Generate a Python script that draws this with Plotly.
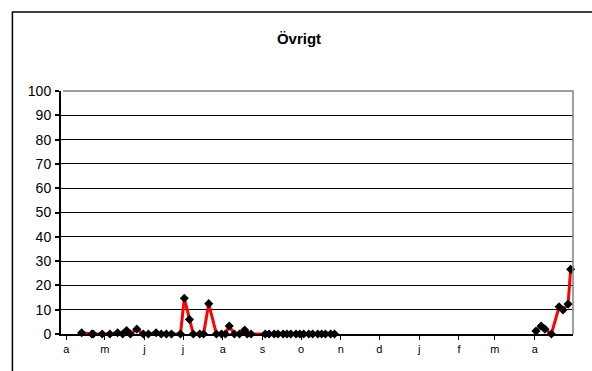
import plotly.graph_objects as go

# Observation dates (season spring 2006 - spring 2007) and share values in percent
dates_summer = [
    "2006-04-13", "2006-04-21", "2006-04-22", "2006-04-29", "2006-05-05",
    "2006-05-11", "2006-05-15", "2006-05-18", "2006-05-21", "2006-05-26",
    "2006-05-31", "2006-06-04", "2006-06-10", "2006-06-14", "2006-06-18",
    "2006-06-22", "2006-06-29", "2006-07-02", "2006-07-06", "2006-07-09",
    "2006-07-14", "2006-07-17", "2006-07-21", "2006-07-27", "2006-07-31",
    "2006-08-03", "2006-08-06", "2006-08-10", "2006-08-14", "2006-08-18",
    "2006-08-20", "2006-08-23", "2006-09-03", "2006-09-06", "2006-09-10",
    "2006-09-13", "2006-09-17", "2006-09-20", "2006-09-23", "2006-09-27",
    "2006-09-30", "2006-10-03", "2006-10-07", "2006-10-10", "2006-10-14",
    "2006-10-17", "2006-10-20", "2006-10-24", "2006-10-27",
]
values_summer = [
    0.5, 0, 0, 0, 0,
    0.5, 0, 1.4, 0, 2.0,
    0, 0, 0.5, 0, 0,
    0, 0, 14.7, 6.0, 0,
    0, 0, 12.5, 0, 0,
    0, 3.3, 0, 0, 1.6,
    0, 0, 0, 0, 0,
    0, 0, 0, 0, 0,
    0, 0, 0, 0, 0,
    0, 0, 0, 0,
]

dates_spring = [
    "2007-04-02", "2007-04-06", "2007-04-09", "2007-04-14",
    "2007-04-20", "2007-04-23", "2007-04-27", "2007-04-29",
]
values_spring = [1.2, 3.3, 2.0, 0, 11.2, 9.9, 12.3, 26.6]

# Month ticks and their single-letter Swedish labels
month_ticks = [
    "2006-04-01", "2006-05-01", "2006-06-01", "2006-07-01", "2006-08-01",
    "2006-09-01", "2006-10-01", "2006-11-01", "2006-12-01", "2007-01-01",
    "2007-02-01", "2007-03-01", "2007-04-01",
]
month_labels = ["a", "m", "j", "j", "a", "s", "o", "n", "d", "j", "f", "m", "a"]

y_ticks = list(range(0, 101, 10))

# Winter has no observations: a None breaks the line between the seasons
x_all = dates_summer + [None] + dates_spring
y_all = values_summer + [None] + values_spring

FONT = "Liberation Sans, Arial, sans-serif"

fig = go.Figure()
fig.add_trace(go.Scatter(
    x=x_all,
    y=y_all,
    mode="lines+markers",
    connectgaps=False,
    line=dict(color="#ff0000", width=3),
    marker=dict(symbol="diamond", size=7, color="black"),
    cliponaxis=False,
    showlegend=False,
))

fig.update_layout(
    width=592,
    height=371,
    margin=dict(l=61, r=19, t=91, b=37),
    paper_bgcolor="white",
    plot_bgcolor="white",
    font=dict(family=FONT, color="black"),
    title=dict(
        text="<b>Övrigt</b>",
        x=299 / 592, xref="container", xanchor="center",
        y=1 - 39 / 371, yref="container", yanchor="middle",
        font=dict(size=15, family=FONT, color="black"),
    ),
    xaxis=dict(
        type="date",
        range=["2006-03-27 22:00", "2007-04-30 20:00"],
        tickmode="array",
        tickvals=month_ticks,
        ticktext=month_labels,
        ticks="outside",
        ticklen=4,
        tickwidth=1,
        tickcolor="black",
        showgrid=False,
        zeroline=False,
        showline=True,
        linecolor="black",
        linewidth=2,
        tickfont=dict(size=11, family=FONT),
        fixedrange=True,
    ),
    yaxis=dict(
        range=[0, 100],
        tickmode="array",
        tickvals=y_ticks,
        ticks="outside",
        ticklen=4,
        tickwidth=2,
        tickcolor="black",
        showgrid=True,
        gridcolor="black",
        gridwidth=1,
        zeroline=False,
        showline=True,
        linecolor="black",
        linewidth=2,
        tickfont=dict(size=14, family=FONT),
        ticklabelstandoff=1,
        fixedrange=True,
    ),
    shapes=[
        # grey top and right edges of the plot area
        dict(type="path", xref="paper", yref="paper",
             path="M 0.004,1 L 1,1 L 1,0",
             line=dict(color="#808080", width=1.5), layer="above"),
        # chart frame running off the bottom and right of the page
        dict(type="path", xref="paper", yref="paper",
             path="M -0.0949,-0.3 L -0.0949,1.325 L 1.2,1.325",
             line=dict(color="black", width=1.5)),
    ],
)

fig.write_html("out.html")
